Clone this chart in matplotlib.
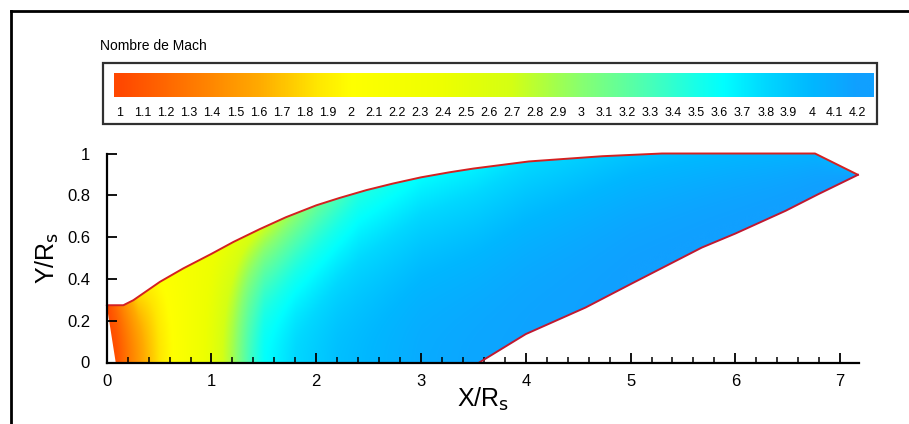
import numpy as np
import matplotlib
matplotlib.use("Agg")
import matplotlib.pyplot as plt
from matplotlib.colors import LinearSegmentedColormap
from matplotlib.patches import Polygon, Rectangle
from matplotlib.lines import Line2D
from matplotlib.ticker import MultipleLocator
import matplotlib.transforms as mtransforms

# ---------------- data ----------------
wall_x = [0.0, 0.159, 0.254, 0.508, 0.73, 1.0, 1.21, 1.46, 1.71, 2.0, 2.22, 2.48, 2.73,
          3.0, 3.27, 3.5, 4.03, 4.73, 5.3, 6.76, 7.17]
wall_y = [0.274, 0.274, 0.298, 0.386, 0.45, 0.52, 0.577, 0.638, 0.695, 0.752, 0.787,
          0.825, 0.856, 0.886, 0.91, 0.928, 0.962, 0.987, 1.0, 1.0, 0.898]
lower_x = [3.556, 4.0, 4.57, 5.0, 5.68, 6.0, 6.48, 6.79, 7.17]
lower_y = [0.0, 0.136, 0.263, 0.375, 0.55, 0.617, 0.726, 0.805, 0.898]
inlet_x = [0.0, 0.086]
inlet_y = [0.274, 0.0]

axis_mach_x = [0.0, 0.086, 0.2, 0.35, 0.5, 0.7, 1.0, 1.2, 1.35, 1.5, 1.8, 2.2, 3.0, 3.556, 5.0, 7.2]
axis_mach = [1.0, 1.05, 1.3, 1.6, 1.85, 2.1, 2.5, 2.9, 3.3, 3.6, 3.8, 3.95, 4.1, 4.15, 4.2, 4.2]
wall_mach_x = [0.0, 0.15, 0.3, 0.5, 0.8, 1.2, 1.6, 2.0, 2.4, 3.0, 3.5, 4.0, 5.0, 6.0, 7.2]
wall_mach = [1.0, 1.4, 1.8, 2.0, 2.25, 2.5, 2.8, 3.15, 3.45, 3.62, 3.68, 3.78, 3.92, 4.0, 4.05]

cmap_values = [1.0, 1.3, 1.6, 1.85, 2.0, 2.4, 2.7, 2.9, 3.0, 3.3, 3.5, 3.62, 3.8, 4.0, 4.2]
cmap_colors = ['#ff4800', '#ff7800', '#ffaa00', '#ffe600', '#ffff00', '#eeff00', '#d4ff14',
               '#a0ff50', '#88ff70', '#48ffb8', '#18ffe8', '#00ffff', '#00d8ff', '#00b8ff',
               '#10a0ff']

cbar_ticks = [1.0, 1.1, 1.2, 1.3, 1.4, 1.5, 1.6, 1.7, 1.8, 1.9, 2.0, 2.1, 2.2, 2.3, 2.4, 2.5,
              2.6, 2.7, 2.8, 2.9, 3.0, 3.1, 3.2, 3.3, 3.4, 3.5, 3.6, 3.7, 3.8, 3.9, 4.0, 4.1, 4.2]
cbar_labels = ['1', '1.1', '1.2', '1.3', '1.4', '1.5', '1.6', '1.7', '1.8', '1.9', '2', '2.1',
               '2.2', '2.3', '2.4', '2.5', '2.6', '2.7', '2.8', '2.9', '3', '3.1', '3.2', '3.3',
               '3.4', '3.5', '3.6', '3.7', '3.8', '3.9', '4', '4.1', '4.2']
x_ticks = [0, 1, 2, 3, 4, 5, 6, 7]
x_tick_labels = ['0', '1', '2', '3', '4', '5', '6', '7']
y_ticks = [0, 0.2, 0.4, 0.6, 0.8, 1.0]
y_tick_labels = ['0', '0.2', '0.4', '0.6', '0.8', '1']

NARROW = ['Liberation Sans Narrow', 'Liberation Sans', 'DejaVu Sans']
plt.rcParams['font.family'] = NARROW

vmin, vmax = 1.0, 4.2
cmap = LinearSegmentedColormap.from_list(
    'mach', [((v - vmin) / (vmax - vmin), c) for v, c in zip(cmap_values, cmap_colors)], N=512)

# ---------------- figure ----------------
W, H = 909, 424
fig = plt.figure(figsize=(W / 100, H / 100), dpi=100)

ax = fig.add_axes([106.7 / W, (H - 362.5) / H, (859 - 106.7) / W, (362.5 - 153.5) / H])
ax.set_xlim(0, 7.18)
ax.set_ylim(0, 1.0)

xg = np.linspace(0, 7.2, 1440)
yg = np.linspace(0, 1.0, 420)
X, Y = np.meshgrid(xg, yg)
top = np.interp(xg, wall_x, wall_y)[None, :]
bot = np.interp(xg, lower_x, lower_y, left=0.0)[None, :]
Ma = np.interp(xg, axis_mach_x, axis_mach)[None, :]
Mw = np.interp(xg, wall_mach_x, wall_mach)[None, :]
eta = np.clip((Y - bot) / np.maximum(top - bot, 1e-6), 0, 1)
M = Ma + (Mw - Ma) * eta ** 2

im = ax.imshow(M, extent=[0, 7.2, 0, 1.0], origin='lower', cmap=cmap, vmin=vmin, vmax=vmax,
               aspect='auto', interpolation='bilinear')
verts = ([(inlet_x[1], inlet_y[1])] + list(zip(lower_x, lower_y)) +
         list(zip(wall_x[::-1], wall_y[::-1])))
poly = Polygon(verts, closed=True, transform=ax.transData)
im.set_clip_path(poly)

ax.plot(wall_x, wall_y, color='#d42020', lw=1.4, clip_on=False, solid_capstyle='round')
ax.plot(lower_x, lower_y, color='#c01830', lw=1.4, clip_on=False)

for s in ['top', 'right']:
    ax.spines[s].set_visible(False)
for s in ['left', 'bottom']:
    ax.spines[s].set_linewidth(1.6)
ax.set_xticks(x_ticks, x_tick_labels)
ax.set_yticks(y_ticks, y_tick_labels)
ax.xaxis.set_minor_locator(MultipleLocator(0.2))
ax.tick_params(which='major', direction='in', length=7, width=1.3, labelsize=12, pad=8)
ax.tick_params(axis='y', which='major', pad=12)
ax.tick_params(which='minor', direction='in', length=4, width=1.1)
ax.set_xlabel('X/R$_{\\mathrm{s}}$', fontsize=18, labelpad=-2)
ax.set_ylabel('Y/R$_{\\mathrm{s}}$', fontsize=18, labelpad=4)

# ---------------- colour legend ----------------
cax = fig.add_axes([114 / W, (H - 96.7) / H, (874 - 114) / W, 23.4 / H])
grad = np.linspace(0.974, 4.27, 800)[None, :]
cax.imshow(grad, extent=[0.974, 4.27, 0, 1], cmap=cmap, vmin=vmin, vmax=vmax, aspect='auto')
cax.set_xlim(0.974, 4.27)
cax.set_ylim(0, 1)
cax.axis('off')
trans = mtransforms.blended_transform_factory(cax.transData, cax.transAxes)
for v, lab in zip(cbar_ticks, cbar_labels):
    cax.text(v, -0.7, lab, transform=trans, ha='center', va='center', fontsize=9)

fig.add_artist(Rectangle((103 / W, (H - 124) / H), (877 - 103) / W, (124 - 62.7) / H,
                         transform=fig.transFigure, fill=False, ec='#303030', lw=1.6))
fig.text(100 / W, 1 - 46 / H, 'Nombre de Mach', ha='left', va='center', fontsize=10)

# outer border
fig.add_artist(Line2D([10.5 / W, 10.5 / W], [0, 1 - 10.5 / H], color='k', lw=2,
                      transform=fig.transFigure))
fig.add_artist(Line2D([10.5 / W, 1], [1 - 10.5 / H, 1 - 10.5 / H], color='k', lw=2,
                      transform=fig.transFigure))

fig.savefig('out.png', dpi=100)
